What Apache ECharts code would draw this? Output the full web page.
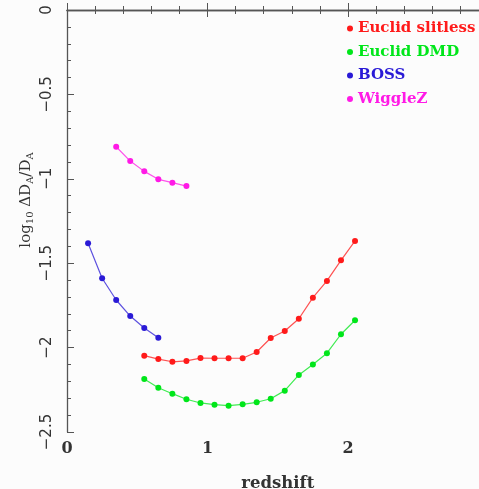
<!DOCTYPE html>
<html>
<head>
<meta charset="utf-8">
<script src="https://cdn.jsdelivr.net/npm/echarts@6/dist/echarts.min.js"></script>
<style>
html,body{margin:0;padding:0;overflow:hidden;background:#fcfcfc;}
#c{width:500px;height:489px;}
</style>
</head>
<body>
<div id="c"></div>
<script>
const zWiggle = [0.35, 0.45, 0.55, 0.65, 0.75, 0.85];
const wiggleZ = [-0.81, -0.895, -0.956, -1.003, -1.023, -1.043];
const zBoss = [0.15, 0.25, 0.35, 0.45, 0.55, 0.65];
const boss = [-1.382, -1.589, -1.718, -1.813, -1.884, -1.941];
const zEuclid = [0.55, 0.65, 0.75, 0.85, 0.95, 1.05, 1.15, 1.25, 1.35, 1.45, 1.55, 1.65, 1.75, 1.85, 1.95, 2.05];
const slitless = [-2.048, -2.068, -2.084, -2.079, -2.062, -2.063, -2.063, -2.063, -2.026, -1.943, -1.902, -1.829, -1.704, -1.605, -1.483, -1.368];
const dmd = [-2.186, -2.238, -2.273, -2.306, -2.328, -2.338, -2.344, -2.336, -2.324, -2.303, -2.255, -2.162, -2.100, -2.033, -1.921, -1.838];
const names = ['Euclid slitless', 'Euclid DMD', 'BOSS', 'WiggleZ'];
const colors = ['#ff1a1a', '#00e61a', '#2a1ad6', '#ff1ae6'];

const pair = (xs, ys) => xs.map((x, i) => [x, ys[i]]);
const F = 'DejaVu Serif';
const axisCol = '#555';

const chart = echarts.init(document.getElementById('c'));
function mkSeries(name, xs, ys, col) {
  return {
    name: name, type: 'line', data: pair(xs, ys),
    symbol: 'circle', symbolSize: 6,
    itemStyle: {color: col},
    lineStyle: {color: col, width: 1.2, opacity: 0.75},
    emphasis: {disabled: true}, animation: false
  };
}
chart.setOption({
  backgroundColor: '#fcfcfc',
  animation: false,
  grid: {left: 67, top: 10, width: 421.5, height: 422, outerBoundsMode: 'none', containLabel: false},
  legend: {
    orient: 'vertical', left: 342, top: 16, itemGap: 8.5,
    icon: 'circle', itemWidth: 6, itemHeight: 6,
    textStyle: {fontFamily: F, fontSize: 15, fontWeight: 'bold'},
    data: names.map((n, i) => ({name: n, itemStyle: {color: colors[i]}, textStyle: {color: colors[i]}}))
  },
  xAxis: [{
    type: 'value', min: 0, max: 3, interval: 1,
    name: 'redshift', nameLocation: 'middle', nameGap: 43,
    nameTextStyle: {fontFamily: F, fontSize: 16.5, color: '#333', fontWeight: 'bold'},
    axisLine: {show: true, lineStyle: {color: axisCol, width: 1.3}},
    axisTick: {show: true, inside: true, length: 7, lineStyle: {color: axisCol}},
    minorTick: {show: true, splitNumber: 5, length: 4, lineStyle: {color: axisCol}},
    axisLabel: {fontFamily: F, fontSize: 16, color: '#333', fontWeight: 'bold', margin: 9,
      formatter: v => String(v)},
    splitLine: {show: false}
  }, {
    type: 'value', min: 0, max: 3, interval: 1, position: 'top',
    axisLine: {show: true, lineStyle: {color: axisCol, width: 1.3}},
    axisTick: {show: true, inside: true, length: 7, lineStyle: {color: axisCol}},
    minorTick: {show: true, splitNumber: 5, length: 4, lineStyle: {color: axisCol}},
    axisLabel: {show: false}, splitLine: {show: false}
  }],
  yAxis: {
    type: 'value', min: -2.5, max: 0, interval: 0.5,
    axisLine: {show: true, lineStyle: {color: axisCol, width: 1.3}},
    axisTick: {show: true, inside: true, length: 7, lineStyle: {color: axisCol}},
    minorTick: {show: true, splitNumber: 5, length: 4, lineStyle: {color: axisCol}},
    axisLabel: {fontFamily: 'DejaVu Sans', fontSize: 15, color: '#333', rotate: 90, margin: 12,
      formatter: v => (v < 0 ? '\u2212' + String(-v) : String(v))},
    splitLine: {show: false}
  },
  graphic: [{
    type: 'text', x: 26, y: 200, rotation: Math.PI / 2,
    style: {
      text: 'log{sub|10} \u0394D{sub|A}/D{sub|A}',
      font: '15px "DejaVu Serif"', fill: '#333',
      align: 'center', verticalAlign: 'middle',
      rich: {sub: {fontSize: 10, fontFamily: F, fill: '#333', padding: [9, 0, 0, 0]}}
    }
  }],
  series: [
    mkSeries(names[0], zEuclid, slitless, colors[0]),
    mkSeries(names[1], zEuclid, dmd, colors[1]),
    mkSeries(names[2], zBoss, boss, colors[2]),
    mkSeries(names[3], zWiggle, wiggleZ, colors[3])
  ]
});
</script>
</body>
</html>
